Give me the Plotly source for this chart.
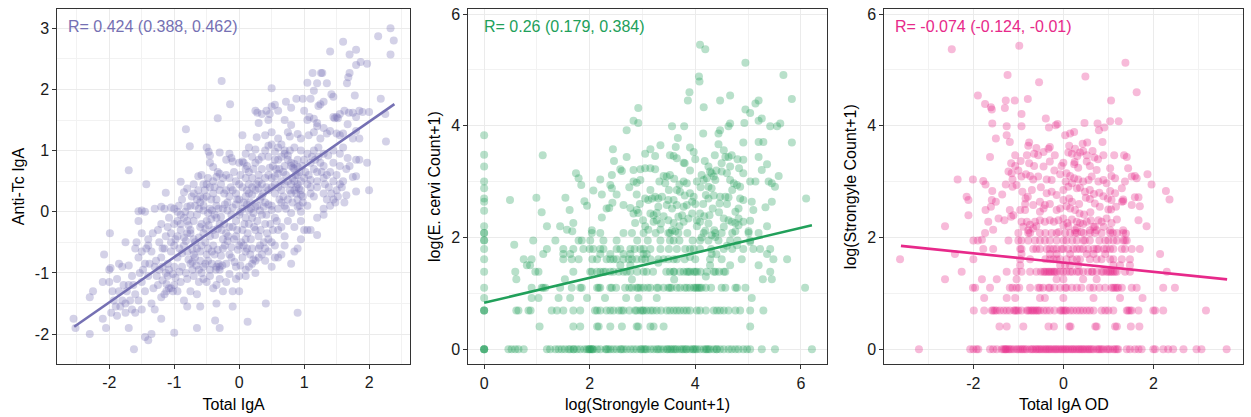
import plotly.graph_objects as go

# ---------------- data ----------------
# Panel 1: Total IgA (x) vs Anti-Tc IgA (y)
p1_pairs = [
    (2.33, 3.0), (2.38, 2.8), (2.14, 2.87), (2.33, 2.57), (1.6, 2.78), (1.40, 2.62), (1.7, 2.57), (1.8, 2.65),
    (1.87, 2.45), (1.97, 2.42), (1.8, 2.4), (1.7, 2.27), (1.68, 2.2), (1.13, 2.27), (1.28, 2.27), (1.26, 2.27),
    (1.2, 2.1), (1.35, 2.1), (1.05, 2.11), (1.66, 2.1), (1.42, 1.92), (1.15, 1.98), (0.5, 2.02), (-0.27, 2.14),
    (1.45, 1.88), (1.78, 1.9), (1.9, 1.63), (2.0, 1.63),
    (2.18, 1.85), (2.25, 1.6), (1.62, 1.65), (1.69, 1.62), (1.75, 1.62), (1.85, 1.65), (1.8, 1.55), (1.45, 1.55),
    (1.5, 1.55), (1.55, 1.6), (1.47, 1.53), (1.52, 1.53), (1.3, 1.8), (1.22, 1.73), (1.25, 1.76), (1.1, 1.85),
    (0.98, 1.85), (0.88, 1.85), (0.72, 1.8), (0.8, 1.7), (0.6, 1.65), (0.5, 1.72), (0.55, 1.75), (0.35, 1.6),
    (0.25, 1.65), (0.28, 1.62), (0.42, 1.65), (0.47, 1.6), (1.0, 1.65), (1.05, 1.5), (1.15, 1.52), (1.2, 1.45),
    (1.08, 1.55), (-0.14, 1.76), (-0.33, 1.53), (-0.82, 1.35), (0.7, 1.5), (0.8, 1.42), (0.3, 1.45), (0.45, 1.5),
    (1.3, 1.37), (1.4, 1.32), (1.2, 1.4), (1.35, 1.28), (1.6, 1.28), (1.5, 1.28), (1.55, 1.25), (1.75, 1.2),
    (1.8, 1.32), (1.85, 1.2), (1.67, 1.43),
    (0.05, 1.25), (0.27, 1.22), (0.5, 1.3), (0.4, 1.25), (0.6, 1.2), (0.75, 1.3), (0.78, 1.23), (0.9, 1.27),
    (0.95, 1.2), (1.07, 1.25), (1.15, 1.3), (1.25, 1.2), (2.26, 1.15), (-0.76, 1.07), (-0.5, 1.05), (-0.47, 0.98),
    (-0.45, 0.92), (0.15, 1.05), (0.25, 1.02), (0.4, 1.0), (0.45, 1.08), (0.5, 1.1), (0.55, 0.98), (0.6, 1.05),
    (0.65, 1.1), (0.7, 0.95), (0.78, 1.0), (0.85, 1.05), (0.95, 1.0), (1.05, 0.95), (1.15, 1.0), (1.22, 1.05),
    (1.3, 0.95), (1.37, 0.92), (1.45, 1.0), (1.55, 0.95), (1.6, 1.05), (1.8, 0.85), (1.85, 0.85), (1.97, 0.8),
    (1.7, 0.75), (1.67, 0.88), (-0.3, 0.97), (-0.15, 0.95), (-0.12, 0.88), (-0.2, 0.85), (-0.1, 0.82), (0.07, 0.8),
    (0.12, 0.75),
    (-1.7, 0.68), (-0.4, 0.73), (-0.45, 0.8), (-0.3, 0.62), (-0.25, 0.55), (-0.35, 0.57), (0.0, 0.8), (0.05, 0.82),
    (0.1, 0.7), (0.15, 0.65), (0.2, 0.55), (0.3, 0.6), (0.35, 0.7), (0.45, 0.6), (0.5, 0.55), (0.55, 0.58),
    (0.6, 0.62), (0.65, 0.5), (0.7, 0.75), (0.75, 0.85), (0.8, 0.8), (0.85, 0.7), (0.9, 0.6), (0.95, 0.5),
    (1.0, 0.55), (1.1, 0.52), (1.2, 0.65), (1.3, 0.55), (1.35, 0.6), (1.45, 0.5), (1.55, 0.75), (1.65, 0.7),
    (1.75, 0.57), (1.8, 0.58), (0.8, 0.75), (0.85, 0.78), (0.9, 0.73), (0.83, 0.72), (-0.63, 0.58), (-0.9, 0.49),
    (-1.43, 0.45),
    (-1.13, 0.31), (-0.8, 0.38), (-0.85, 0.32), (-0.7, 0.3), (-0.6, 0.25), (-0.65, 0.2), (-0.55, 0.22), (-0.6, 0.15),
    (-0.4, 0.3), (-0.3, 0.35), (-0.2, 0.35), (-0.15, 0.25), (-0.05, 0.3), (0.0, 0.2), (0.1, 0.25), (0.15, 0.3),
    (0.2, 0.28), (0.25, 0.35), (0.3, 0.38), (0.35, 0.25), (0.4, 0.15), (0.55, 0.3), (0.65, 0.15), (0.7, 0.1),
    (0.75, 0.2), (0.8, 0.3), (0.85, 0.35), (0.9, 0.45), (0.95, 0.35), (0.98, 0.25), (0.9, 0.2), (1.05, 0.1),
    (1.1, 0.3), (1.15, 0.25), (1.2, 0.4), (1.3, 0.3), (1.35, 0.2), (1.4, 0.1), (1.45, 0.2), (1.5, 0.35),
    (1.3, 0.05), (1.65, 0.27), (1.8, 0.33), (2.0, 0.35), (0.6, 0.05), (0.5, 0.1), (0.45, 0.12),
    (-1.5, 0.02), (-1.55, 0.01), (-1.45, 0.0), (-1.3, 0.05), (-1.2, 0.08), (-1.15, 0.05), (-1.05, 0.07), (-0.95, 0.0),
    (-1.0, 0.05), (-0.55, 0.1), (-0.45, 0.05), (-0.35, 0.1), (-0.25, 0.05), (-0.1, 0.07), (0.02, 0.0), (0.15, 0.02),
    (0.25, 0.08), (0.5, 0.03), (0.8, -0.02), (0.9, 0.08), (0.95, 0.0), (1.3, -0.05), (1.2, -0.1),
    (-1.55, -0.15), (-1.5, -0.35), (-1.4, -0.45), (-1.25, -0.3), (-1.2, -0.2), (-1.1, -0.25), (-1.05, -0.35),
    (-0.95, -0.4), (-0.9, -0.2), (-0.8, -0.35), (-0.75, -0.3), (-0.7, -0.15), (-0.65, -0.05), (-0.6, -0.25),
    (-0.55, -0.35), (-0.5, -0.15), (-0.45, -0.4), (-0.4, -0.3), (-0.35, -0.1), (-0.3, -0.2), (-0.25, -0.45),
    (-0.2, -0.35), (-0.15, -0.25), (-0.05, -0.4), (-0.05, -0.15), (0.05, -0.3), (0.1, -0.45), (0.15, -0.2),
    (0.2, -0.1), (0.25, -0.3), (0.3, -0.4), (0.35, -0.05), (0.4, -0.2), (0.45, -0.45), (0.55, -0.1), (0.6, -0.3),
    (0.65, -0.25), (0.7, -0.4), (0.75, -0.15), (0.85, -0.25), (0.95, -0.15), (1.0, -0.3), (1.05, -0.3),
    (1.1, -0.3), (1.2, -0.38), (-1.99, -0.35), (-1.75, -0.5),
    (-2.08, -0.7), (-1.98, -0.92), (-2.0, -0.95), (-1.85, -0.85), (-1.8, -0.9), (-1.7, -0.88), (-1.6, -0.6),
    (-1.55, -0.75), (-1.5, -0.65), (-1.45, -0.85), (-1.4, -0.55), (-1.35, -0.65), (-1.3, -0.9), (-1.2, -0.75),
    (-1.15, -0.6), (-1.05, -0.65), (-1.0, -0.9), (-0.95, -0.75), (-0.85, -0.55), (-0.8, -0.65), (-0.75, -0.85),
    (-0.72, -0.95), (-0.7, -0.7), (-0.65, -0.6), (-0.6, -0.8), (-0.55, -0.9), (-0.5, -0.7), (-0.45, -0.95),
    (-0.4, -0.55), (-0.35, -0.9), (-0.3, -0.9), (-0.25, -0.6), (-0.2, -0.85), (-0.15, -0.7), (-0.05, -0.9),
    (0.0, -0.55), (0.05, -0.75), (0.1, -0.65), (0.15, -0.9), (0.2, -0.6), (0.25, -0.8), (0.3, -0.75), (0.4, -0.6),
    (0.45, -0.65), (0.5, -0.9), (0.6, -0.75), (0.65, -0.7), (0.85, -0.65), (0.9, -0.6), (0.12, -0.6),
    (-2.1, -1.15), (-2.0, -1.15), (-1.95, -1.3), (-1.88, -1.1), (-1.85, -1.3), (-1.8, -1.45), (-1.75, -1.5),
    (-1.7, -1.2), (-1.65, -1.05), (-1.6, -1.35), (-1.55, -1.45), (-1.5, -1.15), (-1.45, -1.3), (-1.4, -1.05),
    (-1.35, -1.5), (-1.25, -1.2), (-1.2, -1.4), (-1.15, -1.35), (-1.1, -1.05), (-1.05, -1.25), (-1.0, -1.2),
    (-0.95, -1.3), (-0.9, -1.15), (-0.85, -1.45), (-0.8, -1.1), (-0.75, -1.3), (-0.7, -1.05), (-0.65, -1.35),
    (-0.55, -1.1), (-0.5, -1.15), (-0.4, -1.25), (-0.3, -1.1), (-0.2, -1.15), (-0.1, -1.3), (0.0, -1.3),
    (0.1, -1.05), (-0.15, -1.02), (-2.3, -1.4), (-2.25, -1.3), (0.41, -1.5),
    (-2.55, -1.75), (-2.52, -1.9), (-2.3, -2.0), (-2.1, -1.75), (-2.05, -1.9), (-1.97, -1.65), (-1.9, -1.55),
    (-1.75, -1.65), (-1.7, -1.9), (-1.65, -1.6), (-1.6, -1.65), (-1.5, -1.6), (-1.45, -2.05), (-1.4, -2.1),
    (-1.35, -2.0), (-1.3, -1.6), (-1.2, -1.75), (-1.0, -1.98), (-0.8, -1.55), (-0.65, -1.9), (-0.6, -1.55),
    (-0.37, -1.78), (-0.3, -1.9), (-0.35, -1.5), (-0.1, -1.55), (0.13, -1.8), (0.9, -1.65), (-1.62, -2.25),
    (-0.75, -0.35), (-0.7, -0.45), (-0.68, -0.5), (-0.62, -0.42), (-0.58, -0.55), (-0.52, -0.5), (-0.48, -0.6),
    (-0.42, -0.65), (-0.38, -0.7), (-0.33, -0.62), (-0.28, -0.72), (-0.22, -0.55), (-0.18, -0.48), (-0.12, -0.58),
    (-0.08, -0.45), (-0.02, -0.62), (-0.78, -0.78), (-0.72, -0.82), (-0.66, -0.88), (-0.62, -0.95), (-0.52, -0.85),
    (-0.48, -0.8), (-0.42, -0.85), (-0.36, -0.95), (-0.3, -0.95), (-0.26, -0.88), (-0.32, -0.85),
    (-0.9, -0.05), (-0.85, -0.1), (-0.8, -0.15), (-0.75, -0.05), (-0.62, 0.05), (-0.55, 0.02), (-0.48, -0.02),
    (-0.42, 0.02), (-0.38, -0.05), (-0.32, 0.05), (-0.28, -0.08), (-0.22, 0.12), (-0.18, 0.02), (-0.12, -0.05),
    (-0.05, 0.12), (-1.05, -0.5), (-1.0, -0.55), (-0.98, -0.45), (-0.92, -0.6), (-0.88, -0.68), (-0.82, -0.48),
    (-1.1, -0.85), (-1.08, -0.95), (-1.02, -1.02), (-0.98, -1.08), (-0.92, -0.98), (-0.88, -0.9), (-0.82, -1.0),
    (-1.18, -1.12), (-1.12, -1.18), (-1.08, -1.25), (-1.02, -1.3), (-1.12, -1.3),
    (0.0, -0.05), (0.05, 0.05), (0.1, -0.1), (0.12, 0.12), (0.18, 0.05), (0.22, -0.02), (0.28, 0.1), (0.32, 0.02),
    (0.38, 0.08), (0.42, -0.05), (0.45, 0.35), (0.5, 0.4), (0.55, 0.45), (0.6, 0.4), (0.65, 0.35), (0.7, 0.45),
    (0.75, 0.5), (0.8, 0.45), (0.85, 0.5), (0.88, 0.4), (0.92, 0.38), (0.95, 0.28), (0.98, 0.15), (0.93, 0.1),
    (0.88, 0.3), (0.82, 0.55), (0.3, 0.5), (0.35, 0.45), (0.4, 0.55), (0.2, 0.4), (0.15, 0.45), (0.1, 0.55),
    (0.05, 0.4), (0.0, 0.45), (-0.05, 0.5), (-0.1, 0.35), (-0.15, 0.55), (-0.2, 0.6), (0.6, 0.85), (0.65, 0.9),
    (0.7, 1.0), (0.75, 0.92), (0.55, 0.85), (0.45, 0.9), (0.35, 0.9), (0.25, 0.8), (0.3, 0.85), (0.2, 0.9),
    (0.1, 0.95), (1.0, 0.85), (1.1, 0.8), (1.15, 0.7), (1.25, 0.8), (1.3, 0.75), (1.4, 0.65), (1.45, 0.8),
    (1.5, 0.6), (1.55, 0.45), (1.6, 0.5), (1.2, 0.5), (1.05, 0.45), (1.1, 0.4), (-0.5, 0.45), (-0.45, 0.4),
    (-0.4, 0.5), (-0.35, 0.2), (-0.5, 0.25), (-0.55, 0.45), (-0.7, 0.45), (-0.75, 0.1), (-0.8, 0.08),
    (0.3, -0.6), (0.35, -0.7), (0.4, -0.8), (0.2, -0.85), (0.1, -0.95), (0.0, -1.05), (-0.05, -1.1), (0.25, -1.0),
    (0.5, -0.5), (0.55, -0.55),
    (-0.95, -0.15), (-0.9, -0.3), (-0.85, -0.42), (-0.78, -0.22), (-0.72, -0.62), (-0.68, -0.75), (-0.6, -0.65),
    (-0.58, -0.2), (-0.52, -0.28), (-0.47, -0.22), (-0.43, -0.12), (-0.37, -0.38), (-0.33, -0.28), (-0.27, -0.3),
    (-0.23, -0.2), (-0.17, -0.4), (-0.1, -0.25), (-0.03, -0.3), (0.03, -0.5), (0.08, -0.2), (0.13, -0.35),
    (0.18, -0.45), (0.23, -0.25), (0.28, -0.15), (0.33, -0.3), (0.38, -0.5), (0.43, -0.35), (0.48, -0.2),
    (0.52, -0.3), (0.58, -0.15), (0.62, 0.2), (0.68, 0.25), (0.72, 0.05), (0.78, 0.35), (0.82, 0.15), (0.87, 0.6),
    (0.9, 0.85), (0.93, 0.65), (0.97, 0.75), (1.02, 0.65), (1.07, 0.6), (1.12, 0.9), (1.17, 0.85), (1.22, 0.9),
    (1.27, 0.65), (1.32, 0.45), (1.38, 0.4), (1.42, 0.3), (1.48, 0.15), (1.52, 0.25), (1.58, 0.4), (1.62, 0.15),
    (0.72, 0.6), (0.68, 0.65), (0.62, 0.7), (0.57, 0.7), (0.52, 0.75), (0.47, 0.72), (0.42, 0.4), (0.37, 0.3),
    (0.32, 0.2), (0.27, 0.45), (0.22, 0.7), (0.17, 0.15), (0.12, 0.35), (0.07, 0.15), (0.02, 0.6), (-0.03, 0.2),
    (-0.08, 0.65), (-0.13, 0.4), (-0.18, 0.15), (-0.23, 0.3), (-0.28, 0.45), (-0.33, 0.65), (-0.38, 0.4),
    (-0.43, 0.2), (-0.48, 0.55), (-0.53, 0.35), (-0.58, 0.6), (-0.63, 0.35), (-0.68, 0.1), (-0.73, 0.25),
    (-0.83, 0.0), (-0.88, 0.2), (-0.93, 0.1), (-1.0, -0.2), (-1.08, -0.1), (-1.13, -0.4), (-1.18, -0.6),
    (-1.23, -0.5), (-1.28, -0.8), (-1.33, -0.35), (-1.38, -0.85), (-1.43, -0.6), (-1.48, -0.95), (-1.53, -1.0),
    (-1.58, -0.5), (-1.63, -1.2), (-1.68, -1.45), (-1.73, -1.3), (-1.78, -1.2), (-1.83, -1.55), (-1.88, -1.7),
    (-1.93, -1.45), (-1.23, -0.95), (-1.18, -0.9), (-1.13, -1.0), (-1.27, -1.05), (-1.32, -1.25), (-0.62, -1.15),
    (-0.58, -1.0), (-0.45, -1.05), (-0.35, -1.2), (-0.25, -1.3), (-0.12, -0.75), (-0.07, -0.82), (0.02, -0.88),
    (0.07, -0.55), (0.17, -0.7), (0.22, -0.78), (0.32, -0.55), (0.55, -0.75), (0.7, -0.55), (0.8, -0.85),
    (0.95, -0.45),
]
p1_fit_x = [-2.54, 2.39]
p1_fit_y = [-1.88, 1.76]

# Panel 2: log(Strongyle Count+1) (x) vs log(E. cervi Count+1) (y)
# discrete count levels (y) and the x positions of points on each level
p2_levels = [0, 0.405, 0.693, 0.916, 1.099, 1.253, 1.386, 1.504, 1.609, 1.705, 1.792, 1.946, 2.079]
p2_row00 = [0, 0, 0, 0, 0.46, 0.52, 0.59, 0.65, 0.75, 1.19, 1.25, 1.35, 1.41, 1.47, 1.53, 1.63, 1.69, 1.76, 1.82,
            1.95, 1.98, 2.01, 2.04, 2.07, 2.14, 2.2, 2.32, 2.39, 2.45, 2.51, 2.58, 2.64, 2.70, 2.77, 2.83, 2.89,
            2.96, 3.02, 3.08, 3.15, 3.21, 3.27, 3.34, 3.40, 3.46, 3.52, 3.59, 3.65, 3.71, 3.78, 3.84, 3.90, 3.97,
            4.03, 4.09, 4.16, 4.22, 4.28, 4.35, 4.41, 4.47, 4.54, 4.63, 4.69, 4.76, 4.82, 4.91, 4.98, 5.04, 5.26,
            5.51, 6.21, 1.6, 1.7, 1.9, 2.0, 2.05, 2.3, 2.35, 2.6, 2.98, 3.05, 3.3, 3.48, 3.55, 3.62, 3.75, 3.82,
            3.95, 4.0, 4.2, 4.25, 4.4]
p2_row01 = [1.05, 1.69, 1.82, 2.14, 2.17, 2.39, 2.61, 2.89, 2.92, 3.15, 3.21, 3.40, 5.04]
p2_row02 = [0, 0, 0, 0.61, 0.65, 0.84, 0.88, 1.28, 1.38, 1.50, 1.69, 1.82, 2.10, 2.14, 2.20, 2.32, 2.39, 2.45,
            2.55, 2.64, 2.86, 2.89, 2.96, 3.02, 3.08, 3.15, 3.27, 3.46, 3.52, 3.59, 3.65, 3.71, 3.78, 3.84, 4.03,
            4.09, 4.35, 4.41, 4.47, 4.54, 4.63, 4.76, 4.85, 5.04, 5.29, 2.6, 2.75, 3.0, 3.2, 3.35, 3.9, 4.2]
p2_row03 = [0, 0.90, 1.03, 1.41, 1.63, 1.95, 2.29, 2.69, 2.92, 3.27, 5.07]
p2_row04 = [0, 0.90, 1.09, 1.12, 1.16, 1.44, 1.66, 1.82, 1.85, 2.14, 2.17, 2.20, 2.39, 2.42, 2.67, 2.80, 2.89, 2.92,
            2.96, 3.02, 3.15, 3.27, 3.40, 3.49, 3.52, 3.65, 3.71, 3.84, 3.97, 4.00, 4.03, 4.06, 4.09, 4.12, 4.50,
            4.57, 4.76, 4.79, 4.95, 6.08, 2.5, 2.75, 3.1, 3.3, 3.55, 3.8, 3.9, 4.2, 4.3]
p2_row05 = [0.61, 1.53, 5.28, 5.45]
p2_row06 = [0, 0.59, 0.97, 1.03, 1.69, 2.01, 2.04, 2.14, 2.20, 2.26, 2.39, 2.45, 2.55, 2.64, 2.77, 3.02, 3.08, 3.52,
            3.59, 3.71, 3.78, 3.84, 3.87, 3.90, 3.97, 4.00, 4.03, 4.22, 4.35, 4.38, 4.54, 4.57, 5.42,
            2.3, 2.7, 2.9, 3.2, 3.45, 3.6, 4.1, 4.45]
p2_row07 = [0.81, 0.87, 2.58, 2.77, 4.28, 4.66, 5.20]
p2_row08 = [0, 0.75, 0.90, 1.50, 1.66, 1.79, 2.14, 2.32, 2.39, 2.51, 2.64, 2.74, 2.89, 2.99, 3.15, 3.30, 3.49, 3.59,
            3.65, 4.28, 4.88, 5.48, 5.74, 2.05, 2.45, 2.8, 3.05, 3.4, 3.8, 4.0, 4.5]
p2_row09 = [1.12, 1.50, 1.63, 2.20, 2.39, 2.64, 2.77, 3.02, 3.08, 4.31, 5.36]
p2_row10 = [0, 1.19, 1.50, 1.69, 1.88, 2.07, 2.26, 2.51, 2.58, 2.77, 2.96, 3.02, 3.15, 3.34, 3.65, 3.81, 3.97, 4.09,
            4.54, 4.91, 5.10, 5.23, 5.42, 2.0, 2.2, 2.85, 3.5, 3.9, 4.3, 4.7]
p2_row11 = [0, 0.93, 1.35, 1.79, 1.85, 2.01, 2.26, 2.51, 3.34, 3.52, 3.59, 4.09, 4.44, 4.66, 5.04,
            2.9, 3.1, 3.7, 3.95, 4.25, 4.8]
p2_row12 = [0, 2.04, 2.20, 2.64, 2.80, 3.02, 3.49, 3.52, 3.68, 4.16, 4.38, 5.01, 3.25, 3.85, 4.5, 4.7, 5.2]
# x = 0 column (no strongyles) at higher levels
p2_zero_col_y = [3.83, 3.48, 3.27, 3.0, 2.88, 2.7, 2.64, 2.48, 2.2, 2.08, 1.95]
# remaining (higher) points
p2_pairs = [
    (4.09, 5.45), (4.19, 5.37), (4.95, 5.13), (4.07, 4.88), (4.08, 4.79), (5.67, 4.91), (5.83, 4.48), (3.89, 4.60),
    (3.86, 4.45), (4.47, 4.45), (4.66, 4.54), (4.16, 4.33), (2.92, 4.32), (2.83, 4.09), (2.92, 4.05), (5.14, 4.40),
    (5.20, 4.45), (4.95, 4.29), (5.04, 4.23), (5.26, 4.13), (5.20, 4.09), (5.42, 3.99), (5.55, 3.99), (5.61, 4.04),
    (3.56, 3.99), (3.79, 3.99), (4.93, 4.05), (4.63, 3.99), (4.66, 4.04), (4.44, 3.86), (4.47, 3.92), (4.15, 3.86),
    (2.70, 3.92), (3.67, 3.78), (4.91, 3.70), (5.20, 3.71), (5.29, 3.71), (5.83, 3.70), (4.44, 3.67), (4.54, 3.56),
    (3.34, 3.65), (3.15, 3.58), (3.63, 3.62), (2.44, 3.58), (3.90, 3.61), (3.97, 3.53), (3.05, 3.50), (3.24, 3.46),
    (3.52, 3.47), (3.59, 3.46), (3.65, 3.42), (2.70, 3.44), (4.37, 3.47), (4.57, 3.44), (4.63, 3.44), (4.69, 3.47),
    (5.20, 3.44), (1.11, 3.47), (3.78, 3.34), (4.18, 3.37), (4.91, 3.39), (2.46, 3.37), (4.50, 3.33), (3.80, 3.33),
    (4.66, 3.27), (5.36, 3.31), (2.83, 3.21), (2.96, 3.22), (3.05, 3.24), (3.15, 3.24), (3.24, 3.22), (2.58, 3.22),
    (2.61, 3.19), (4.83, 3.24), (5.26, 3.21), (1.74, 3.15), (4.25, 3.27), (4.28, 3.18), (4.31, 3.15), (2.42, 3.12),
    (3.40, 3.10), (3.46, 3.09), (3.52, 3.12), (5.58, 3.10), (4.12, 3.12), (4.22, 3.06), (4.35, 3.09), (4.38, 3.03),
    (4.50, 3.18), (4.91, 3.15), (1.79, 3.06), (2.20, 3.04), (2.83, 3.00), (2.89, 2.98), (2.96, 3.03), (3.32, 3.00),
    (3.43, 2.97), (3.78, 3.00), (3.84, 2.97), (4.03, 3.00), (4.16, 3.03), (4.66, 3.03), (4.73, 2.97), (4.79, 2.94),
    (4.85, 2.91), (5.04, 3.00), (5.14, 3.00), (5.39, 3.00), (5.45, 2.97), (5.51, 2.91), (1.84, 2.94), (2.39, 2.94),
    (2.42, 2.88), (2.75, 2.90), (4.25, 2.91), (4.31, 2.88), (3.90, 2.79), (3.65, 2.85), (3.71, 2.82), (2.07, 2.84),
    (2.23, 2.77), (2.51, 2.77), (2.89, 2.77), (3.24, 2.73), (3.30, 2.70), (3.37, 2.73), (3.49, 2.67), (3.59, 2.67),
    (3.97, 2.73), (4.20, 2.76), (4.25, 2.70), (4.47, 2.73), (4.57, 2.73), (4.63, 2.72), (4.85, 2.70), (4.91, 2.67),
    (5.07, 2.64), (5.45, 2.64), (6.10, 2.70), (3.05, 2.70), (3.11, 2.67), (3.18, 2.70), (0.49, 2.67), (0.99, 2.71),
    (1.54, 2.71), (1.90, 2.65), (2.43, 2.62), (1.95, 2.57), (1.62, 2.49), (2.32, 2.52), (2.37, 2.53), (2.64, 2.58),
    (2.77, 2.53), (2.89, 2.49), (3.46, 2.58), (3.56, 2.52), (3.65, 2.58), (3.78, 2.55), (3.84, 2.58), (3.94, 2.64),
    (4.33, 2.52), (4.46, 2.61), (4.76, 2.46), (4.82, 2.52), (5.10, 2.49), (5.33, 2.54), (1.09, 2.45), (2.23, 2.36),
    (2.83, 2.43), (2.92, 2.44), (3.15, 2.43), (3.21, 2.40), (3.27, 2.44), (3.40, 2.38), (3.68, 2.37), (3.75, 2.40),
    (3.87, 2.34), (3.94, 2.43), (4.09, 2.43), (4.17, 2.38), (4.27, 2.40), (4.54, 2.34), (4.63, 2.31), (4.82, 2.34),
    (4.91, 2.28), (3.01, 2.31), (3.21, 2.28), (3.27, 2.31), (3.49, 2.31), (3.59, 2.26), (3.78, 2.28), (4.03, 2.31),
    (4.09, 2.28), (4.69, 2.28), (4.76, 2.26), (4.82, 2.22), (5.04, 2.30), (1.19, 2.20), (1.44, 2.20), (1.57, 2.14),
    (1.69, 2.26), (2.86, 2.26), (3.05, 2.20), (3.11, 2.14), (3.34, 2.14), (4.03, 2.20), (5.36, 2.20), (4.36, 2.13),
    (4.54, 2.19), (4.19, 2.12), (0.57, 1.87), (1.67, 2.11), (2.04, 2.13), (3.56, 2.13), (3.62, 2.11), (4.76, 2.11),
    (5.01, 2.11), (4.31, 2.04), (4.38, 2.01), (4.12, 2.00), (4.79, 1.86), (5.04, 1.92),
    (3.3, 2.55), (3.5, 2.85), (3.7, 2.95), (4.0, 2.6), (4.1, 2.9), (4.35, 2.75), (4.45, 2.45), (4.6, 2.6),
    (4.7, 2.85), (3.15, 2.85), (2.95, 2.6), (3.8, 2.75), (4.15, 2.6), (4.4, 3.2), (3.6, 3.05), (3.9, 3.2),
    (4.0, 3.4), (4.6, 3.15), (4.8, 3.4), (3.35, 2.25), (3.7, 2.2), (4.25, 2.25), (4.4, 1.7), (4.6, 1.85),
    (3.9, 1.65), (3.3, 1.55), (2.8, 1.25), (3.6, 1.25), (4.2, 1.3),
]
p2_fit_x = [0.0, 6.21]
p2_fit_y = [0.83, 2.22]

# Panel 3: Total IgA OD (x) vs log(Strongyle Count+1) (y)
p3_levels = [0, 0.405, 0.693, 0.916, 1.099, 1.253, 1.386, 1.504, 1.609, 1.705, 1.792, 1.946, 2.079]
p3_row00 = [-3.21, -2.07, -2.0, -1.93, -1.89, -1.63, -1.56, -1.48, -1.37, -1.33, -1.30, -1.26, -1.22, -1.19, -1.15,
            -1.04, -1.0, -0.96, -0.89, -0.81, -0.74, -0.67, -0.59, -0.52, -0.44, -0.37, -0.30, -0.22, -0.15, -0.07,
            0, 0.07, 0.15, 0.22, 0.30, 0.37, 0.44, 0.52, 0.59, 0.67, 0.74, 0.81, 0.89, 0.96, 1.04, 1.11, 1.19, 1.22,
            1.41, 1.48, 1.59, 1.67, 1.74, 2.0, 2.04, 2.22, 2.33, 2.44, 2.67, 2.96, 3.07, 3.63,
            -1.28, -1.1, -0.92, -0.85, -0.7, -0.62, -0.55, -0.48, -0.4, -0.33, -0.26, -0.18, -0.11, -0.03, 0.04,
            0.11, 0.19, 0.26, 0.34, 0.41, 0.48, 0.56, 0.63, 0.78, 0.85, 1.0, 1.15]
p3_row01 = [-1.42, -1.26, -0.89, -0.33, -0.21, 0.13, 0.16, 0.71, 0.74, 1.15, 1.19, 1.50, 1.69]
p3_row02 = [-1.99, -1.76, -1.59, -1.56, -1.52, -1.48, -1.41, -1.33, -1.26, -1.19, -1.07, -1.04, -1.0, -0.93, -0.81,
            -0.78, -0.74, -0.70, -0.67, -0.63, -0.59, -0.56, -0.52, -0.44, -0.37, -0.30, -0.07, -0.04, 0, 0.04,
            0.07, 0.15, 0.22, 0.30, 0.37, 0.44, 0.52, 0.59, 0.67, 0.93, 1.11, 1.41, 1.44, 1.48, 1.52, 1.67, 2.0,
            2.04, 2.22, 3.17, -0.2, 0.85, 1.0, -1.1]
p3_row03 = [-1.76, -1.26, -1.07, -0.52, -0.41, 0, 0.67, 1.26, 1.76]
p3_row04 = [-2.01, -1.96, -1.63, -1.19, -1.13, -1.04, -0.98, -0.74, -0.56, -0.52, -0.33, -0.30, -0.07, 0.04, 0.07,
            0.19, 0.30, 0.59, 0.67, 0.93, 1.07, 1.11, 1.15, 1.19, 1.22, 1.52, 1.63, 2.22, 2.48,
            -0.45, -0.2, 0.4, 0.8, 1.3]
p3_row05 = [-2.63, -1.81, -1.48, -1.04, -0.15, 0, 0.44, 0.74]
p3_row06 = [-2.26, -1.26, -1.04, -0.93, -0.74, -0.44, -0.41, -0.37, -0.33, -0.30, -0.26, -0.22, -0.19, -0.15, -0.07,
            0, 0.07, 0.15, 0.30, 0.44, 0.63, 0.74, 0.85, 0.89, 0.96, 1.0, 1.04, 1.07, 1.11, 1.15, 1.19, 1.37, 1.48,
            2.30, -0.6, -0.5, 0.2, 0.35, 0.55, 0.65]
p3_row07 = [-0.96, -0.07, 0.04, 0.15, 0.33, 1.11, 1.26, 1.48]
p3_row08 = [-3.63, -2.0, -0.96, -0.74, -0.30, -0.22, -0.07, 0.07, 0.30, 0.37, 0.59, 0.74, 1.04, 1.11, 1.48,
            -0.4, -0.15, 0.2, 0.85, 1.3]
p3_row09 = [-2.41, -0.93, -0.30, -0.15, 0.15, 0.52, 0.67, 0.93, 2.15]
p3_row10 = [-1.78, -1.56, -0.96, -0.93, -0.67, -0.52, -0.37, -0.22, -0.15, -0.04, 0, 0.11, 0.22, 0.37, 0.44, 0.67,
            0.74, 0.78, 0.96, 1.04, 1.11, 1.30, 1.37, 1.52, 1.70, -0.6, -0.3, 0.3, 0.55, 0.9]
p3_row11 = [-2.0, -1.90, -1.22, -1.0, -0.93, -0.78, -0.63, -0.52, -0.41, -0.30, 0, 0.07, 0.30, 0.44, 0.48, 0.59,
            0.93, 1.11, 1.19, 1.33, 1.37, 1.41, -0.15, 0.2, 0.8, 1.0]
p3_row12 = [-1.74, -1.0, -0.78, -0.74, -0.52, -0.26, -0.15, 0.04, 0.15, 0.26, 0.30, 0.59, 0.85, 1.04, 1.19, 1.33,
            -0.4, 0.45, 0.7, 1.1]
p3_pairs = [
    (-2.48, 5.37), (-0.98, 5.43), (1.38, 5.13), (-1.24, 4.91), (0.49, 4.88), (-0.54, 4.78), (1.63, 4.60),
    (-1.90, 4.54), (-1.74, 4.39), (-1.61, 4.33), (-1.59, 4.29), (-1.28, 4.45), (-1.08, 4.45), (-0.79, 4.48),
    (-1.30, 4.32), (1.06, 4.45), (-0.93, 4.21), (-0.39, 4.13), (-1.26, 3.99), (-0.93, 3.99), (-1.58, 4.04),
    (-0.32, 3.97), (-0.17, 4.01), (-0.13, 4.03), (0.47, 4.05), (0.76, 4.04), (0.79, 3.92), (0.91, 3.97),
    (1.04, 4.08), (1.23, 4.08), (-1.50, 3.77), (-1.26, 3.83), (-1.19, 3.71), (-0.76, 3.70), (-0.78, 3.64),
    (0.04, 3.83), (0.15, 3.86), (0.24, 3.89), (0.13, 3.64), (0.26, 3.59), (0.43, 3.68), (0.53, 3.70), (0.87, 3.71),
    (-1.63, 3.44), (-1.07, 3.47), (-0.81, 3.47), (-0.95, 3.37), (-0.65, 3.50), (-0.56, 3.47), (-0.44, 3.53),
    (-0.33, 3.59), (-0.30, 3.62), (-0.19, 3.47), (0.11, 3.52), (0.19, 3.50), (0.31, 3.46), (0.37, 3.52),
    (0.44, 3.55), (0.52, 3.47), (0.69, 3.43), (0.77, 3.40), (0.89, 3.47), (1.13, 3.47), (1.35, 3.47), (1.41, 3.44),
    (-1.16, 3.33), (-1.07, 3.28), (-0.76, 3.33), (-0.65, 3.28), (-0.44, 3.27), (-0.30, 3.36), (0, 3.34),
    (-0.04, 3.28), (0.24, 3.31), (0.33, 3.25), (0.52, 3.36), (0.59, 3.28), (0.74, 3.21), (1.04, 3.24), (1.44, 3.24),
    (-1.22, 3.18), (-1.15, 3.15), (-2.35, 3.04), (-2.01, 3.04), (-1.78, 3.01), (-1.73, 2.95), (-1.13, 3.04),
    (-0.93, 3.09), (-0.83, 3.13), (-0.74, 3.10), (-0.67, 3.04), (-0.56, 3.09), (-0.37, 3.04), (-0.26, 3.03),
    (-0.07, 3.13), (0.07, 3.15), (0.15, 3.10), (0.24, 3.06), (0.33, 3.04), (0.44, 3.00), (0.56, 3.03), (0.63, 3.09),
    (0.89, 3.03), (0.96, 2.97), (1.07, 3.10), (1.15, 3.06), (1.37, 3.00), (1.52, 3.09), (1.59, 3.10), (1.63, 3.06),
    (1.87, 3.13), (1.96, 2.95), (-1.58, 2.83), (-1.36, 2.77), (-1.28, 2.95), (-1.13, 2.91), (-1.04, 2.94),
    (-0.91, 2.82), (-0.70, 2.85), (-0.37, 2.79), (-0.26, 2.82), (-0.15, 2.76), (0, 2.85), (0.11, 2.91), (0.19, 2.97),
    (0.30, 2.88), (0.37, 2.89), (0.48, 2.82), (0.59, 2.85), (0.68, 2.78), (0.78, 3.00), (1.04, 2.83), (1.15, 2.79),
    (1.30, 2.88), (2.28, 2.83), (2.36, 2.68), (-2.15, 2.73), (-2.11, 2.67), (-1.59, 2.67), (-1.50, 2.64),
    (-0.84, 2.70), (-0.79, 2.73), (-0.52, 2.64), (-0.41, 2.58), (0, 2.67), (0.13, 2.70), (0.19, 2.64), (0.50, 2.71),
    (0.59, 2.69), (0.89, 2.74), (0.99, 2.70), (1.07, 2.67), (1.30, 2.64), (1.33, 2.68), (1.52, 2.58), (1.59, 2.72),
    (1.67, 2.72), (1.70, 2.56), (-2.11, 2.40), (-1.73, 2.49), (-1.61, 2.55), (-1.19, 2.49), (-1.11, 2.40),
    (-0.96, 2.49), (-0.85, 2.49), (-0.67, 2.58), (-0.52, 2.46), (-0.44, 2.52), (-0.15, 2.49), (-0.07, 2.52),
    (0.07, 2.56), (0.15, 2.52), (0.26, 2.49), (0.36, 2.43), (0.46, 2.41), (0.70, 2.61), (0.81, 2.55), (1.06, 2.50),
    (1.17, 2.55), (1.33, 2.65), (-1.67, 2.28), (-1.56, 2.14), (-1.44, 2.34), (-1.31, 2.31), (-1.16, 2.37),
    (-0.93, 2.28), (-0.81, 2.28), (-0.74, 2.23), (-0.63, 2.28), (-0.52, 2.31), (-0.41, 2.28), (-0.30, 2.31),
    (-0.21, 2.28), (-0.11, 2.31), (0, 2.34), (0.09, 2.26), (0.19, 2.32), (0.30, 2.28), (0.37, 2.26), (0.44, 2.24),
    (0.52, 2.28), (0.61, 2.31), (0.70, 2.19), (0.78, 2.31), (0.85, 2.28), (0.96, 2.34), (1.07, 2.26), (1.19, 2.32),
    (1.67, 2.31), (1.85, 2.20), (-2.63, 2.20), (-0.89, 2.19), (-0.78, 2.13), (-0.67, 2.16), (0, 2.22), (0.11, 2.20),
    (0.26, 2.13), (0.30, 2.17), (0.59, 2.13), (0.67, 2.19), (0.74, 2.13), (0.90, 2.19), (1.04, 2.13), (1.33, 2.13),
    (1.39, 2.07), (-1.81, 1.96),
    (-0.5, 2.9), (-0.3, 2.6), (-0.2, 3.2), (0.05, 3.0), (0.35, 2.6), (0.6, 2.45), (0.8, 2.8), (1.0, 2.5),
    (-0.6, 2.2), (-0.1, 2.1), (0.4, 2.1), (-0.85, 2.6), (-1.0, 3.2), (0.25, 3.35), (0.65, 3.55), (-0.6, 3.6),
]
p3_fit_x = [-3.61, 3.64]
p3_fit_y = [1.85, 1.25]

annot_texts = ["R= 0.424 (0.388, 0.462)", "R= 0.26 (0.179, 0.384)", "R= -0.074 (-0.124, -0.01)"]
x_titles = ["Total IgA", "log(Strongyle Count+1)", "Total IgA OD"]
y_titles = ["Anti-Tc IgA", "log(E. cervi Count+1)", "log(Strongyle Count+1)"]
colors = ["#7570b3", "#21a05a", "#e7298a"]

# ---------------- assemble ----------------
def rows_xy(levels, rows):
    xs, ys = [], []
    for lv, r in zip(levels, rows):
        xs += list(r)
        ys += [lv] * len(r)
    return xs, ys

p1x = [p[0] for p in p1_pairs]
p1y = [p[1] for p in p1_pairs]

p2_rows = [p2_row00, p2_row01, p2_row02, p2_row03, p2_row04, p2_row05, p2_row06,
           p2_row07, p2_row08, p2_row09, p2_row10, p2_row11, p2_row12]
p2x, p2y = rows_xy(p2_levels, p2_rows)
p2x += [0] * len(p2_zero_col_y)
p2y += p2_zero_col_y
p2x += [p[0] for p in p2_pairs]
p2y += [p[1] for p in p2_pairs]

p3_rows = [p3_row00, p3_row01, p3_row02, p3_row03, p3_row04, p3_row05, p3_row06,
           p3_row07, p3_row08, p3_row09, p3_row10, p3_row11, p3_row12]
p3x, p3y = rows_xy(p3_levels, p3_rows)
p3x += [p[0] for p in p3_pairs]
p3y += [p[1] for p in p3_pairs]

W, H = 1251, 417
FONT = "Liberation Sans, Arial, sans-serif"

fig = go.Figure()
data = [(p1x, p1y, p1_fit_x, p1_fit_y), (p2x, p2y, p2_fit_x, p2_fit_y), (p3x, p3y, p3_fit_x, p3_fit_y)]
for i, (xs, ys, fx, fy) in enumerate(data):
    ax = "" if i == 0 else str(i + 1)
    fig.add_trace(go.Scatter(x=xs, y=ys, mode="markers", xaxis="x" + ax, yaxis="y" + ax,
                             marker=dict(size=8, color=colors[i], opacity=0.32, line=dict(width=0)),
                             hoverinfo="skip", showlegend=False))
    fig.add_trace(go.Scatter(x=fx, y=fy, mode="lines", xaxis="x" + ax, yaxis="y" + ax,
                             line=dict(color=colors[i], width=2.6), hoverinfo="skip", showlegend=False))

# plot-area pixel boxes: (left, right, top, bottom)
boxes = [(57.3, 410.0, 9.0, 364.0), (468.3, 826.7, 9.0, 364.3), (884.3, 1243.3, 9.0, 364.3)]
xranges = [[-2.8, 2.63], [-0.30, 6.49], [-3.98, 4.0]]
yranges = [[-2.49, 3.316], [-0.27, 6.09], [-0.27, 6.09]]
xticks = [[-2, -1, 0, 1, 2], [0, 2, 4, 6], [-2, 0, 2]]
xminor = [0.5, 1, 1]
yticks = [[-2, -1, 0, 1, 2, 3], [0, 2, 4, 6], [0, 2, 4, 6]]
yminor = [0.5, 1, 1]
annot_left = [65.7, 482.0, 893.0]

layout = dict(width=W, height=H, margin=dict(l=0, r=0, t=0, b=0),
              paper_bgcolor="white", plot_bgcolor="white",
              font=dict(family=FONT, size=16, color="#000000"), showlegend=False)

for i in range(3):
    l, r, t, b = boxes[i]
    ax = "" if i == 0 else str(i + 1)
    common = dict(showline=True, linecolor="#333333", linewidth=1, mirror=True,
                  ticks="outside", ticklen=4, tickwidth=1, tickcolor="#333333",
                  showgrid=True, gridcolor="#ebebeb", gridwidth=1.1, zeroline=False,
                  tickfont=dict(size=16, color="#1a1a1a", family=FONT), automargin=False)
    layout["xaxis" + ax] = dict(common, domain=[l / W, r / W], range=xranges[i],
                                tickmode="array", tickvals=xticks[i],
                                ticktext=[str(v) for v in xticks[i]],
                                minor=dict(dtick=xminor[i], tick0=0, showgrid=True, gridcolor="#f2f2f2",
                                           gridwidth=0.8, ticks=""),
                                anchor="y" + ax,
                                title=dict(text=x_titles[i], font=dict(size=16, family=FONT, color="#000"),
                                           standoff=8))
    layout["yaxis" + ax] = dict(common, domain=[1 - b / H, 1 - t / H], range=yranges[i],
                                tickmode="array", tickvals=yticks[i],
                                ticktext=[str(v) for v in yticks[i]],
                                minor=dict(dtick=yminor[i], tick0=0, showgrid=True, gridcolor="#f2f2f2",
                                           gridwidth=0.8, ticks=""),
                                anchor="x" + ax,
                                title=dict(text=y_titles[i], font=dict(size=16, family=FONT, color="#000"),
                                           standoff=6))

annotations = []
for i in range(3):
    annotations.append(dict(x=annot_left[i] / W, y=1 - 26 / H, xref="paper", yref="paper",
                            text=annot_texts[i], showarrow=False, xanchor="left", yanchor="middle",
                            font=dict(size=16, color=colors[i], family=FONT)))
layout["annotations"] = annotations

fig.update_layout(**layout)
fig.write_html("out.html")
